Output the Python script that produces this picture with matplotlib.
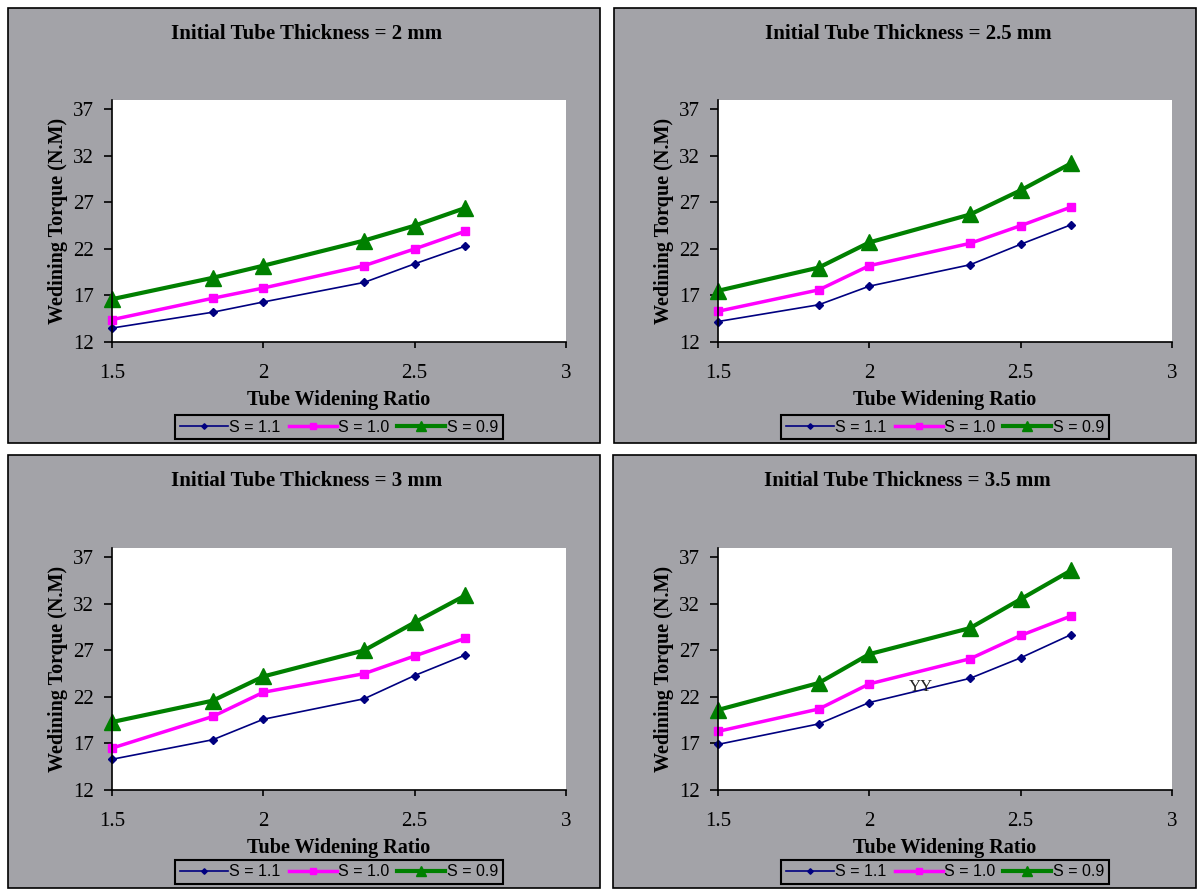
import matplotlib
matplotlib.use("Agg")
import matplotlib.pyplot as plt
from matplotlib.patches import Rectangle

# tube widening ratio (x) shared by all panels
ratio = [1.5, 1.833, 2.0, 2.333, 2.5, 2.667]

thickness = ["2", "2.5", "3", "3.5"]

# widening torque (N.M) per panel, for S = 1.1 / 1.0 / 0.9
s11 = [
    [13.5, 15.2, 16.3, 18.4, 20.4, 22.3],
    [14.2, 16.0, 18.0, 20.3, 22.5, 24.6],
    [15.3, 17.4, 19.6, 21.8, 24.3, 26.5],
    [16.9, 19.1, 21.4, 24.0, 26.2, 28.7],
]
s10 = [
    [14.4, 16.7, 17.8, 20.2, 22.0, 23.9],
    [15.3, 17.6, 20.2, 22.6, 24.5, 26.5],
    [16.5, 19.9, 22.5, 24.5, 26.4, 28.3],
    [18.3, 20.7, 23.4, 26.1, 28.6, 30.7],
]
s09 = [
    [16.6, 18.9, 20.2, 22.9, 24.5, 26.4],
    [17.5, 20.0, 22.7, 25.7, 28.3, 31.2],
    [19.3, 21.6, 24.2, 27.0, 30.0, 32.9],
    [20.6, 23.5, 26.6, 29.4, 32.5, 35.6],
]

xticks = [1.5, 2, 2.5, 3]
xticklabels = ["1.5", "2", "2.5", "3"]
yticks = [12, 17, 22, 27, 32, 37]

W, H = 1197, 889
BG = "#a3a3a8"
serif = "Liberation Serif"
sans = "Liberation Sans"

fig = plt.figure(figsize=(W / 100, H / 100), dpi=100)
fig.patch.set_facecolor("white")


def fx(px):
    return px / W


def fy(py):
    return 1 - py / H


# panel frames (pixels): left, top, right, bottom, plot-left, plot-top
panels = [
    (8, 8, 600, 443, 112, 100),
    (614, 8, 1196, 443, 718, 100),
    (8, 455, 600, 888, 112, 548),
    (613, 455, 1196, 888, 718, 548),
]

for i, (l, t, r, b, pl, pt) in enumerate(panels):
    fig.patches.append(Rectangle((fx(l), fy(b)), fx(r - l), (b - t) / H,
                                 transform=fig.transFigure, facecolor=BG,
                                 edgecolor="black", linewidth=1.2, zorder=-5))
    pw, ph = 454, 242
    ax = fig.add_axes([fx(pl), fy(pt + ph), fx(pw), ph / H])
    ax.set_zorder(2)
    ax.set_facecolor("white")
    ax.plot(ratio, s11[i], color="#000080", lw=1.2, marker="D", ms=4,
            label="S = 1.1", clip_on=False)
    ax.plot(ratio, s10[i], color="#ff00ff", lw=2.5, marker="s", ms=6,
            label="S = 1.0", clip_on=False)
    ax.plot(ratio, s09[i], color="#008000", lw=3, marker="^", ms=11,
            label="S = 0.9", clip_on=False)
    ax.set_xlim(1.5, 3)
    ax.set_ylim(12, 38)
    ax.set_xticks(xticks)
    ax.set_xticklabels(xticklabels, fontfamily=serif, fontsize=15)
    ax.set_yticks(yticks)
    ax.set_yticklabels([str(v) for v in yticks], fontfamily=serif, fontsize=15)
    for s in ["top", "right"]:
        ax.spines[s].set_visible(False)
    ax.spines["left"].set_linewidth(1.2)
    ax.spines["bottom"].set_linewidth(1.2)
    ax.tick_params(axis="y", direction="out", length=6, width=1.2, pad=7)
    ax.tick_params(axis="x", direction="out", length=4, width=1.2, pad=12)
    ax.set_xlabel("Tube Widening Ratio", fontfamily=serif, fontweight="bold",
                  fontsize=14.5)
    ax.xaxis.set_label_coords(0.5, -0.2)
    ax.set_ylabel("Wedining Torque (N.M)", fontfamily=serif,
                  fontweight="bold", fontsize=14.5)
    ax.yaxis.set_label_coords(-0.097, 0.5)
    fig.text(fx((l + r) / 2 + 3), fy(t + 26),
             f"Initial Tube Thickness = {thickness[i]} mm",
             ha="center", va="center", fontfamily=serif, fontweight="bold",
             fontsize=15)
    leg = fig.legend(handles=ax.get_lines(), loc="center",
                     bbox_to_anchor=(fx(pl + 227), fy(b - 16)),
                     ncol=3, frameon=True, fancybox=False,
                     prop={"family": sans, "size": 11.5},
                     handlelength=3.0, handletextpad=0.1, columnspacing=0.5,
                     borderpad=0.3, borderaxespad=0, markerscale=0.7)
    leg.get_frame().set_facecolor(BG)
    leg.get_frame().set_edgecolor("black")
    leg.get_frame().set_linewidth(1.5)
    leg.get_frame().set_alpha(1)
    if i == 3:
        ax.text(2.17, 23.1, "YY", fontfamily=serif, fontsize=12, ha="center",
                va="center", color="#222222")

fig.savefig("out.png", dpi=100, facecolor=fig.get_facecolor())
